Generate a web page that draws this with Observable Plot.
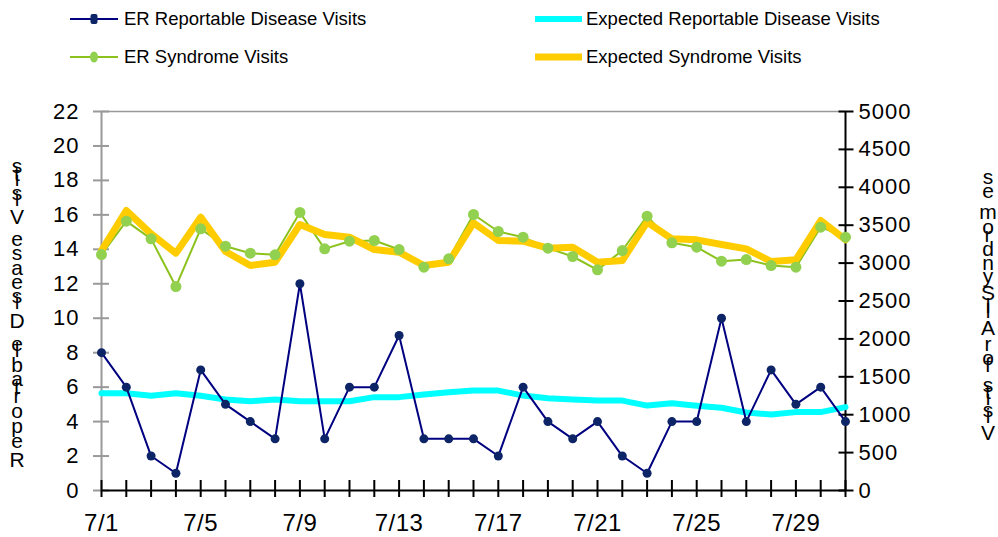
<!DOCTYPE html>
<html><head><meta charset="utf-8">
<script src="https://cdn.jsdelivr.net/npm/d3@7"></script>
<script src="https://cdn.jsdelivr.net/npm/@observablehq/plot@0.6"></script>
<style>
body{margin:0;background:#fff;font-family:"Liberation Sans",Arial,sans-serif;}
#legend{position:relative;width:998px;height:80px;}
.item{position:absolute;display:flex;align-items:center;height:24px;font-size:18.5px;color:#000;white-space:nowrap;}
#chart svg{display:block;}
</style></head><body>
<div id="legend"></div>
<div id="chart"></div>
<script>
// ---- data ----
const days = d3.range(1, 32);               // July 1 .. July 31
const xTickDays = [1, 5, 9, 13, 17, 21, 25, 29];
const dayLabel = d => `7/${d}`;
const leftTicks = [0,2,4,6,8,10,12,14,16,18,20,22];
const rightTicks = [0,500,1000,1500,2000,2500,3000,3500,4000,4500,5000];

const erReportable = [8,6,2,1,7,5,4,3,12,3,6,6,9,3,3,3,2,6,4,3,4,2,1,4,4,10,4,7,5,6,4];
const expectedReportable = [5.65,5.65,5.5,5.65,5.5,5.28,5.18,5.28,5.18,5.18,5.18,5.42,5.42,5.57,5.7,5.8,5.8,5.51,5.36,5.28,5.22,5.22,4.93,5.07,4.92,4.8,4.53,4.41,4.55,4.55,4.84];
const erSyndrome = [3113,3553,3320,2691,3452,3223,3131,3109,3668,3188,3289,3298,3179,2946,3056,3641,3417,3342,3197,3087,2911,3166,3619,3268,3210,3025,3047,2968,2946,3474,3342];
const expectedSyndrome = [3166,3694,3386,3131,3606,3153,2968,3012,3509,3377,3342,3179,3144,2968,3012,3531,3298,3289,3197,3210,3012,3034,3540,3320,3307,3245,3188,3021,3043,3562,3307];

const leftMax = 22, rightMax = 5000;
const toLeft = v => v * leftMax / rightMax;

const rows = days.map((d, i) => ({
  day: d,
  rep: erReportable[i],
  erep: expectedReportable[i],
  syn: toLeft(erSyndrome[i]),
  esyn: toLeft(expectedSyndrome[i])
}));

// ---- legend ----
const legendItems = [
  {label: "ER Reportable Disease Visits", left: 70, top: 7, w: 48, gap: 6, stroke: "#000080", sw: 2, marker: "rect", mfill: "#0d2466"},
  {label: "Expected Reportable Disease Visits", left: 535, top: 7, w: 47, gap: 4, stroke: "#00ffff", sw: 6},
  {label: "ER Syndrome Visits", left: 70, top: 45, w: 48, gap: 6, stroke: "#8cc21c", sw: 2, marker: "ellipse", mfill: "#92d050"},
  {label: "Expected Syndrome Visits", left: 535, top: 45, w: 47, gap: 4, stroke: "#ffcc00", sw: 7}
];
const legend = d3.select("#legend");
legendItems.forEach(it => {
  const div = legend.append("div").attr("class", "item").style("left", it.left + "px").style("top", it.top + "px");
  const s = div.append("svg").attr("width", it.w).attr("height", 24).style("margin-right", it.gap + "px");
  s.append("line").attr("x1", 0).attr("x2", it.w).attr("y1", 12).attr("y2", 12).attr("stroke", it.stroke).attr("stroke-width", it.sw);
  if (it.marker === "rect") s.append("rect").attr("x", it.w/2 - 3.5).attr("y", 7).attr("width", 7).attr("height", 10).attr("rx", 2).attr("fill", it.mfill);
  if (it.marker === "ellipse") s.append("ellipse").attr("cx", it.w/2).attr("cy", 12).attr("rx", 4).attr("ry", 5.5).attr("fill", it.mfill);
  div.append("span").text(it.label);
});

// ---- chart ----
const plot = Plot.plot({
  width: 998,
  height: 457,
  marginLeft: 101,
  marginRight: 153,
  marginTop: 31,
  marginBottom: 47,
  style: {fontFamily: "'Liberation Sans', Arial, sans-serif", background: "#fff", overflow: "visible", color: "#000"},
  x: {domain: [days[0], days[days.length - 1]]},
  y: {domain: [0, leftMax]},
  marks: [
    Plot.ruleY([leftMax], {stroke: "#999", strokeWidth: 1.5}),
    Plot.ruleX([days[0]], {stroke: "#999", strokeWidth: 2}),
    Plot.axisY({ticks: leftTicks, tickSize: 16, dx: 8, stroke: "#999", strokeWidth: 2, tickFormat: () => "", label: null}),
    Plot.axisY({ticks: leftTicks, tickSize: 0, tickPadding: 22, fontSize: 22, label: null}),
    Plot.ruleX([days[days.length - 1]], {stroke: "#000", strokeWidth: 2}),
    Plot.axisY({anchor: "right", ticks: rightTicks.map(toLeft), tickSize: 15, dx: -7.5, stroke: "#000", strokeWidth: 2, tickFormat: () => "", label: null}),
    Plot.axisY({anchor: "right", ticks: rightTicks.map(toLeft), tickSize: 0, tickPadding: 13, fontSize: 22, tickFormat: d => String(Math.round(d * rightMax / leftMax)), label: null}),
    Plot.line(rows, {x: "day", y: "erep", stroke: "#00ffff", strokeWidth: 6}),
    Plot.line(rows, {x: "day", y: "rep", stroke: "#000080", strokeWidth: 2}),
    Plot.dot(rows, {x: "day", y: "rep", r: 4.5, fill: "#0d2466"}),
    Plot.line(rows, {x: "day", y: "syn", stroke: "#8cc21c", strokeWidth: 2}),
    Plot.line(rows, {x: "day", y: "esyn", stroke: "#ffcc00", strokeWidth: 7}),
    Plot.dot(rows, {x: "day", y: "syn", r: 5.5, fill: "#92d050"}),
    Plot.ruleY([0], {stroke: "#000", strokeWidth: 2}),
    Plot.axisX({ticks: days, tickSize: 17, dy: -10, stroke: "#000", strokeWidth: 2, tickFormat: () => "", label: null}),
    Plot.axisX({ticks: xTickDays, tickSize: 0, tickPadding: 23, fontSize: 24, tickFormat: dayLabel, label: null})
  ]
});
document.getElementById("chart").appendChild(plot);

const svg = d3.select(plot);
svg.selectAll("g[aria-label='y-axis tick label'] text").style("letter-spacing", "1px");
svg.selectAll("g[aria-label='x-axis tick label'] text").style("letter-spacing", "0.5px");

// stacked axis titles (upright characters stacked bottom-to-top), one text element each
function stackLabel(text, x, yBottom, yTop) {
  const ctx = document.createElement("canvas").getContext("2d");
  ctx.font = "21px 'Liberation Sans', Arial, sans-serif";
  const chars = [...text];
  const w = chars.map(c => ctx.measureText(c).width);
  const total = d3.sum(w.slice(0, -1));
  const k = (yBottom - yTop) / total;
  const ys = [];
  let y = yBottom;
  chars.forEach((c, i) => { ys.push(y.toFixed(1)); y -= w[i] * k; });
  svg.append("text")
    .attr("font-size", 21)
    .attr("font-family", "'Liberation Sans', Arial, sans-serif")
    .attr("fill", "#000")
    .attr("text-anchor", "middle")
    .attr("x", chars.map(() => x).join(" "))
    .attr("y", ys.join(" "))
    .text(text);
}
stackLabel("Reportable Disease Visits", 17, 387, 93);
stackLabel("Visits for All Syndromes", 988, 360, 104);
</script>
</body></html>
